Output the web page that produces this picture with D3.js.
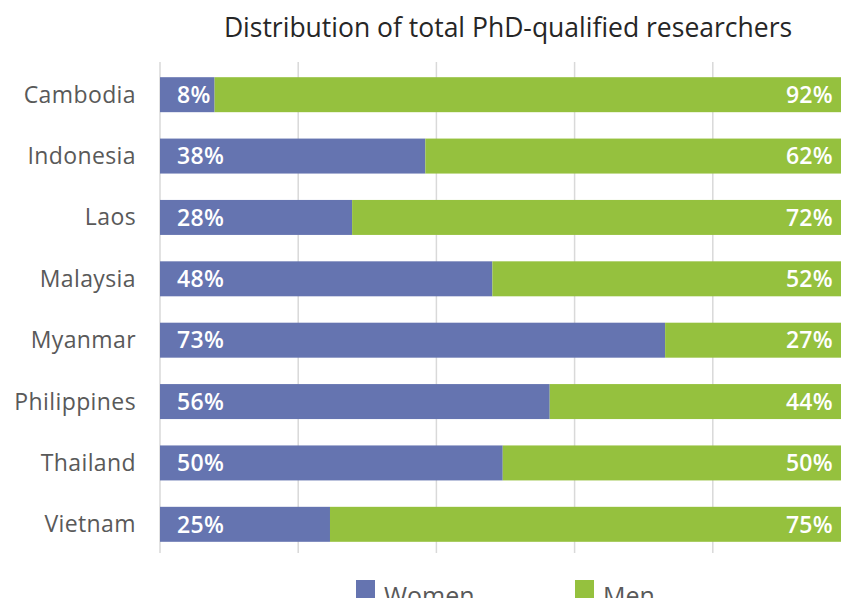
<!DOCTYPE html>
<html>
<head>
<meta charset="utf-8">
<script src="https://cdn.jsdelivr.net/npm/d3@7"></script>
<style>
  body { margin: 0; background: #fff; }
  svg { display: block; font-family: "Open Sans", "Noto Sans", sans-serif; }
</style>
</head>
<body>
<svg width="841" height="598"></svg>
<script>
// data
const countries = ["Cambodia", "Indonesia", "Laos", "Malaysia", "Myanmar", "Philippines", "Thailand", "Vietnam"];
const women = [7.9, 38.4, 27.8, 48.1, 73.1, 56.4, 49.6, 24.6];
const men = women.map(w => 100 - w);
const seriesNames = ["Women", "Men"];
const seriesColors = ["#6574b0", "#95c13e"];
const xTicks = [0, 20, 40, 60, 80, 100];
const title = "Distribution of total PhD-qualified researchers";

const svg = d3.select("svg");
const width = +svg.attr("width");

const plotLeft = 160, plotRight = 851, plotTop = 64, plotBottom = 555;

const x = d3.scaleLinear().domain([0, 100]).range([plotLeft, plotRight]);
const y = d3.scaleBand().domain(countries).range([plotTop, plotBottom]).paddingInner(0.43).paddingOuter(0.215);

// title
svg.append("text")
  .attr("x", 508)
  .attr("y", 37)
  .attr("text-anchor", "middle")
  .attr("font-size", 26.5)
  .attr("fill", "#262626")
  .text(title);

// gridlines
svg.append("g")
  .selectAll("line")
  .data(xTicks)
  .join("line")
  .attr("x1", d => x(d))
  .attr("x2", d => x(d))
  .attr("y1", 62)
  .attr("y2", 553)
  .attr("stroke", "#d9d9d9")
  .attr("stroke-width", 1.5);

// stacked data
const rows = countries.map((c, i) => ({ country: c, Women: women[i], Men: men[i] }));
const stack = d3.stack().keys(seriesNames)(rows);

svg.append("g")
  .selectAll("g")
  .data(stack)
  .join("g")
  .attr("fill", (d, i) => seriesColors[i])
  .selectAll("rect")
  .data(d => d)
  .join("rect")
  .attr("x", d => x(d[0]))
  .attr("width", d => x(d[1]) - x(d[0]))
  .attr("y", d => y(d.data.country))
  .attr("height", y.bandwidth());

// category labels
svg.append("g")
  .selectAll("text")
  .data(countries)
  .join("text")
  .attr("x", 136)
  .attr("y", d => y(d) + y.bandwidth() / 2)
  .attr("dy", "0.35em")
  .attr("text-anchor", "end")
  .attr("font-size", 23)
  .attr("letter-spacing", 0.4)
  .attr("fill", "#595959")
  .text(d => d);

// value labels
const labels = svg.append("g")
  .attr("fill", "#fff")
  .attr("font-size", 23)
  .attr("font-weight", 600)
  .attr("letter-spacing", 0.3);

labels.selectAll("text.w")
  .data(rows)
  .join("text")
  .attr("class", "w")
  .attr("x", 177)
  .attr("y", d => y(d.country) + y.bandwidth() / 2)
  .attr("dy", "0.36em")
  .text(d => Math.round(d.Women) + "%");

labels.selectAll("text.m")
  .data(rows)
  .join("text")
  .attr("class", "m")
  .attr("x", 833)
  .attr("y", d => y(d.country) + y.bandwidth() / 2)
  .attr("dy", "0.36em")
  .attr("text-anchor", "end")
  .text(d => Math.round(d.Men) + "%");

// legend
const legendX = [356, 575];
const legend = svg.append("g")
  .selectAll("g")
  .data(seriesNames)
  .join("g")
  .attr("transform", (d, i) => `translate(${legendX[i]},580)`);

legend.append("rect")
  .attr("width", 19)
  .attr("height", 19)
  .attr("fill", (d, i) => seriesColors[i]);

legend.append("text")
  .attr("x", 28)
  .attr("y", 25)
  .attr("font-size", 25)
  .attr("fill", "#595959")
  .text(d => d);
</script>
</body>
</html>
